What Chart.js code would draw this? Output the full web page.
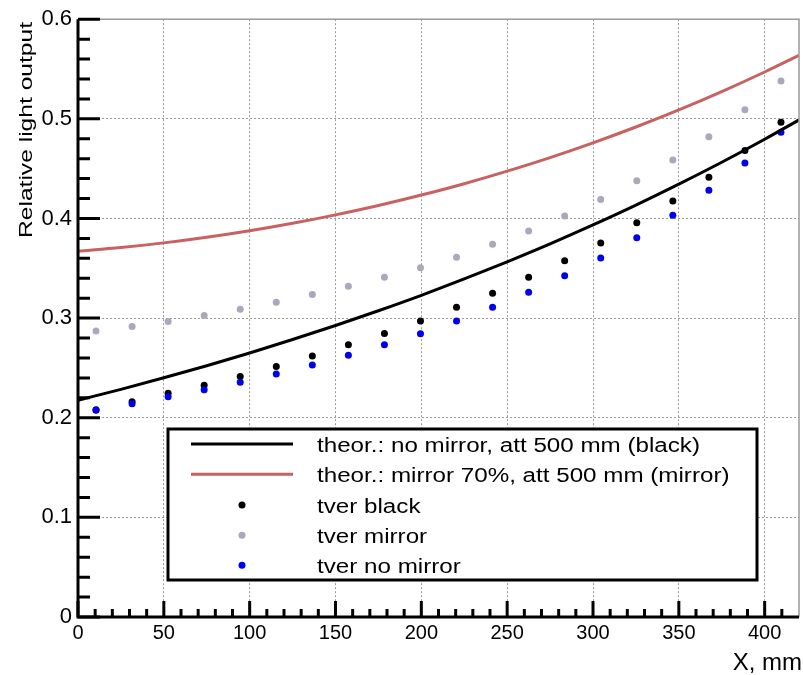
<!DOCTYPE html>
<html lang="en">
<head>
    <meta charset="UTF-8">
    <title>Relative light output</title>
    <script src="https://cdn.jsdelivr.net/npm/chart.js"></script>
    <style>
        html, body { margin: 0; padding: 0; background: #fff; }
        canvas { display: block; }
    </style>
</head>
<body>
    <canvas id="lightChart" width="803" height="675"></canvas>

    <script>
        // measured points, X in mm
        const xPoints = [10.5, 31.5, 52.5, 73.5, 94.5, 115.5, 136.5, 157.5, 178.5, 199.5,
                         220.5, 241.5, 262.5, 283.5, 304.5, 325.5, 346.5, 367.5, 388.5, 409.5];
        const tverBlack = [0.208, 0.216, 0.2245, 0.2325, 0.2414, 0.2514, 0.262, 0.2733, 0.2846, 0.2971,
                           0.3108, 0.325, 0.341, 0.3575, 0.3754, 0.3956, 0.4175, 0.4414, 0.4683, 0.4965];
        const tverMirror = [0.287, 0.2915, 0.2965, 0.3025, 0.309, 0.316, 0.3237, 0.332, 0.341, 0.3505,
                            0.361, 0.374, 0.3874, 0.4026, 0.419, 0.4378, 0.4587, 0.482, 0.509, 0.538];
        const tverNoMirror = [0.2076, 0.214, 0.221, 0.228, 0.2355, 0.2438, 0.253, 0.2627, 0.2733, 0.2842,
                              0.2971, 0.3108, 0.326, 0.3426, 0.3602, 0.3807, 0.4033, 0.4282, 0.4557, 0.4866];

        // theoretical curves
        const theoryX = [0, 25, 50, 75, 100, 125, 150, 175, 200, 225, 250, 275, 300, 325, 350, 375, 400, 420];
        const theoryBlack = [0.2175, 0.2285, 0.2401, 0.2522, 0.2650, 0.2785, 0.2926, 0.3074, 0.3229,
                             0.3393, 0.3565, 0.3745, 0.3935, 0.4134, 0.4344, 0.4564, 0.4795, 0.4989];
        const theoryMirror = [0.3670, 0.3708, 0.3755, 0.3811, 0.3876, 0.3951, 0.4036, 0.4130, 0.4235,
                              0.4349, 0.4475, 0.4611, 0.4759, 0.4918, 0.5089, 0.5273, 0.5470, 0.5637];

        const xTicks = [0, 50, 100, 150, 200, 250, 300, 350, 400];

        const legendLabels = [
            'theor.: no mirror, att 500 mm (black)',
            'theor.: mirror 70%, att 500 mm (mirror)',
            'tver black',
            'tver mirror',
            'tver no mirror'
        ];

        const RED = '#c86262';
        const GREY = '#a9a9bd';
        const BLUE = '#0000f0';

        function pairs(xs, ys) {
            return xs.map((x, i) => ({ x: x, y: ys[i] }));
        }

        const rootAxes = {
            id: 'rootAxes',
            afterDraw(chart) {
                const ctx = chart.ctx;
                const area = chart.chartArea;
                const xs = chart.scales.x;
                const ys = chart.scales.y;
                ctx.save();

                // thin frame top / right
                ctx.strokeStyle = '#999';
                ctx.lineWidth = 1.5;
                ctx.beginPath();
                ctx.moveTo(area.left, area.top);
                ctx.lineTo(area.right, area.top);
                ctx.lineTo(area.right, area.bottom);
                ctx.stroke();

                // ticks
                ctx.strokeStyle = '#000';
                ctx.lineWidth = 3;
                ctx.beginPath();
                for (let v = 0; v < 420; v += 10) {
                    const px = xs.getPixelForValue(v);
                    const len = v % 50 === 0 ? 16 : 8;
                    ctx.moveTo(px, area.bottom);
                    ctx.lineTo(px, area.bottom - len);
                }
                for (let i = 0; i <= 30; i++) {
                    const py = ys.getPixelForValue(i * 0.02);
                    const len = i % 5 === 0 ? 22 : 12;
                    ctx.moveTo(area.left, py);
                    ctx.lineTo(area.left + len, py);
                }
                ctx.stroke();

                // axis lines
                ctx.beginPath();
                ctx.moveTo(area.left, area.top);
                ctx.lineTo(area.left, area.bottom);
                ctx.lineTo(area.right, area.bottom);
                ctx.stroke();

                // axis titles
                ctx.fillStyle = '#000';
                ctx.font = '24px "Liberation Sans", Arial, sans-serif';
                ctx.textAlign = 'right';
                ctx.textBaseline = 'alphabetic';
                ctx.fillText('X, mm', 802, 670);

                ctx.save();
                ctx.translate(32, 238);
                ctx.rotate(-Math.PI / 2);
                ctx.font = '19px "Liberation Sans", Arial, sans-serif';
                ctx.textAlign = 'left';
                const yTitle = 'Relative light output';
                const sy = 216 / ctx.measureText(yTitle).width;
                ctx.scale(sy, 1);
                ctx.fillText(yTitle, 0, 0);
                ctx.restore();

                // legend
                const box = { left: 168, top: 429, right: 757, bottom: 580 };
                ctx.fillStyle = '#fff';
                ctx.fillRect(box.left, box.top, box.right - box.left, box.bottom - box.top);
                ctx.lineWidth = 3;
                ctx.strokeStyle = '#000';
                ctx.strokeRect(box.left, box.top, box.right - box.left, box.bottom - box.top);

                const rowY = [444, 474.3, 505, 535.3, 565.3];
                ctx.lineWidth = 3;
                ctx.strokeStyle = '#000';
                ctx.beginPath(); ctx.moveTo(191, rowY[0]); ctx.lineTo(293, rowY[0]); ctx.stroke();
                ctx.strokeStyle = RED;
                ctx.beginPath(); ctx.moveTo(191, rowY[1]); ctx.lineTo(293, rowY[1]); ctx.stroke();
                [['#000', 2], [GREY, 3], [BLUE, 4]].forEach(([c, r]) => {
                    ctx.fillStyle = c;
                    ctx.beginPath();
                    ctx.arc(242, rowY[r], 3.5, 0, Math.PI * 2);
                    ctx.fill();
                });

                ctx.fillStyle = '#000';
                ctx.font = '20px "Liberation Sans", Arial, sans-serif';
                ctx.textAlign = 'left';
                const sx = 383 / ctx.measureText(legendLabels[0]).width;
                legendLabels.forEach((t, i) => {
                    ctx.save();
                    ctx.translate(317, rowY[i] + 7.5);
                    ctx.scale(sx, 1);
                    ctx.fillText(t, 0, 0);
                    ctx.restore();
                });

                ctx.restore();
            }
        };

        new Chart(document.getElementById('lightChart'), {
            type: 'scatter',
            data: {
                datasets: [
                    {
                        label: legendLabels[2],
                        data: pairs(xPoints, tverBlack),
                        backgroundColor: '#000',
                        pointRadius: 3.5,
                        pointBorderWidth: 0,
                        order: 2
                    },
                    {
                        label: legendLabels[3],
                        data: pairs(xPoints, tverMirror),
                        backgroundColor: GREY,
                        pointRadius: 3.5,
                        pointBorderWidth: 0,
                        order: 3
                    },
                    {
                        label: legendLabels[4],
                        data: pairs(xPoints, tverNoMirror),
                        backgroundColor: BLUE,
                        pointRadius: 3.5,
                        pointBorderWidth: 0,
                        order: 1
                    },
                    {
                        type: 'line',
                        label: legendLabels[0],
                        data: pairs(theoryX, theoryBlack),
                        borderColor: '#000',
                        borderWidth: 3,
                        pointRadius: 0,
                        cubicInterpolationMode: 'monotone',
                        fill: false,
                        order: 0
                    },
                    {
                        type: 'line',
                        label: legendLabels[1],
                        data: pairs(theoryX, theoryMirror),
                        borderColor: RED,
                        borderWidth: 3,
                        pointRadius: 0,
                        cubicInterpolationMode: 'monotone',
                        fill: false,
                        order: 0
                    }
                ]
            },
            options: {
                responsive: false,
                animation: false,
                devicePixelRatio: 1,
                layout: { padding: { left: 0, right: 1, top: 14, bottom: 0 } },
                plugins: {
                    legend: { display: false },
                    tooltip: { enabled: false }
                },
                scales: {
                    x: {
                        type: 'linear',
                        min: 0,
                        max: 420,
                        afterFit(scale) { scale.height = 58; },
                        afterBuildTicks(scale) { scale.ticks = xTicks.map(v => ({ value: v })); },
                        grid: { color: '#9a9a9a', lineWidth: 1, drawTicks: false },
                        border: { display: false, dash: [2, 2] },
                        ticks: {
                            autoSkip: false,
                            maxRotation: 0,
                            padding: 4,
                            color: '#000',
                            font: { family: '"Liberation Sans", Arial, sans-serif', size: 20 }
                        }
                    },
                    y: {
                        min: 0,
                        max: 0.6,
                        afterFit(scale) { scale.width = 78; },
                        grid: { color: '#9a9a9a', lineWidth: 1, drawTicks: false },
                        border: { display: false, dash: [2, 2] },
                        ticks: {
                            stepSize: 0.1,
                            padding: 6,
                            color: '#000',
                            font: { family: '"Liberation Sans", Arial, sans-serif', size: 22 },
                            callback: v => Math.round(v * 10) / 10
                        }
                    }
                }
            },
            plugins: [rootAxes]
        });
    </script>
</body>
</html>
